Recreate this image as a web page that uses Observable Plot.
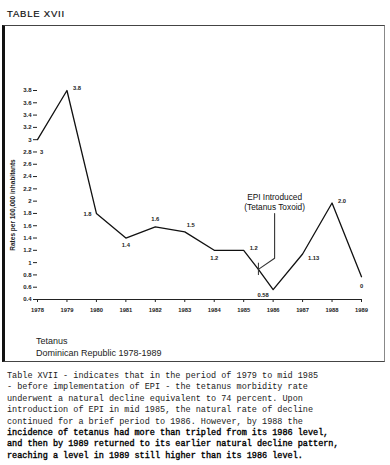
<!DOCTYPE html>
<html>
<head>
<meta charset="utf-8">
<script src="https://cdn.jsdelivr.net/npm/d3@7"></script>
<script src="https://cdn.jsdelivr.net/npm/@observablehq/plot@0.6"></script>
<style>
  html, body { margin: 0; padding: 0; background: #fff; }
  #page { position: relative; width: 390px; height: 465px; overflow: hidden; background: #fff; }
  #title { position: absolute; left: 7px; top: 8px; font: 9.5px "Liberation Sans", Arial, sans-serif; letter-spacing: 0.8px; color: #111; -webkit-text-stroke: 0.2px #111; }
  #box { position: absolute; left: 2px; top: 25px; width: 383px; height: 337px; border: 1px solid #444; border-left: 3px solid #111; border-right: 1px solid #888; box-sizing: border-box; }
  #chart { position: absolute; left: 0; top: 0; }
  #cap { position: absolute; left: 36px; top: 336px; font: 9px/11.5px "Liberation Sans", Arial, sans-serif; color: #222; }
  #para { position: absolute; left: 7px; top: 371px; font: 8.5px/11.4px "Liberation Mono", "Courier New", monospace; color: #222; white-space: pre; }
  #para .b { color: #000; -webkit-text-stroke: 0.35px #000; }
</style>
</head>
<body>
<div id="page">
  <div id="title">TABLE XVII</div>
  <div id="box"></div>
  <div id="chart"></div>
  <div id="cap">Tetanus<br>Dominican Republic 1978-1989</div>
  <div id="para"></div>
</div>
<script>
// Data
const years = [1978, 1979, 1980, 1981, 1982, 1983, 1984, 1985, 1985.5, 1986, 1987, 1988, 1989];
const rates = [3, 3.8, 1.8, 1.4, 1.58, 1.5, 1.2, 1.2, 0.89, 0.56, 1.14, 1.97, 0.77];
const pointLabels = ["3", "3.8", "1.8", "1.4", "1.6", "1.5", "1.2", "1.2", "", "0.58", "1.13", "2.0", "0"];
const labelDx = [4, 10, -9, 0, 0, 6, 0, 10, 0, -10, 11, 10, 0];
const labelDy = [12, -2, 1, 7, -8, -7, 8, -2, 0, 5, 4, -2, 9];
const xTicks = [1978, 1979, 1980, 1981, 1982, 1983, 1984, 1985, 1986, 1987, 1988, 1989];
const yTicks = [0.4, 0.6, 0.8, 1, 1.2, 1.4, 1.6, 1.8, 2, 2.2, 2.4, 2.6, 2.8, 3, 3.2, 3.4, 3.6, 3.8];
const epiX = [1986.05, 1986.05, 1985.5];
const epiY = [1.8, 1.07, 0.89];
const epiText = ["EPI Introduced", "(Tetanus Toxoid)"];
const yTitle = "Rates per 100,000 inhabitants";
const paragraph = [
  "Table XVII - indicates that in the period of 1979 to mid 1985",
  "- before implementation of EPI - the tetanus morbidity rate",
  "underwent a natural decline equivalent to 74 percent. Upon",
  "introduction of EPI in mid 1985, the natural rate of decline",
  "continued for a brief period to 1986. However, by 1988 the",
  "incidence of tetanus had more than tripled from its 1986 level,",
  "and then by 1989 returned to its earlier natural decline pattern,",
  "reaching a level in 1989 still higher than its 1986 level."
];

const data = years.map((y, i) => ({year: y, rate: rates[i], label: pointLabels[i], dx: labelDx[i], dy: labelDy[i]}));
const epi = epiX.map((x, i) => ({x, y: epiY[i]}));

const chart = Plot.plot({
  width: 390,
  height: 330,
  marginLeft: 37,
  marginRight: 29,
  marginTop: 90,
  marginBottom: 31,
  style: {fontFamily: "'Liberation Sans', Arial, sans-serif", color: "#222", background: "transparent", overflow: "visible"},
  x: {domain: [1978, 1989]},
  y: {domain: [0.4, 3.8]},
  marks: [
    Plot.axisX({ticks: xTicks, tickFormat: d => String(d), tickSize: 3, tickPadding: 5, fontSize: 5.8, fontWeight: "bold", label: null}),
    Plot.axisY({ticks: yTicks, tickFormat: d => String(+d.toFixed(1)), tickSize: 4, tickPadding: 2, fontSize: 6, fontWeight: "bold", label: null}),
    Plot.text([yTitle], {frameAnchor: "left", text: d => d, rotate: -90, textAnchor: "middle", dx: -25, dy: 10, fontSize: 6.5, fontWeight: "bold", fill: "#222"}),
    Plot.ruleY([0.4], {stroke: "#222", strokeWidth: 1.2}),
    Plot.line(data, {x: "year", y: "rate", stroke: "#111", strokeWidth: 1.3}),
    Plot.line(epi, {x: "x", y: "y", stroke: "#333", strokeWidth: 1.1}),
    Plot.ruleX([epiX[2]], {y1: epiY[2] - 0.1, y2: epiY[2] + 0.1, stroke: "#333", strokeWidth: 1}),
    Plot.text([epiText[0]], {x: epiX[0], y: epiY[0], text: d => d, dy: -16, fontSize: 8.3, fill: "#111", textAnchor: "middle"}),
    Plot.text([epiText[1]], {x: epiX[0], y: epiY[0], text: d => d, dy: -6, fontSize: 8.3, fill: "#111", textAnchor: "middle"}),
    ...data.map(d => Plot.text([d], {x: "year", y: "rate", text: "label", dx: d.dx, dy: d.dy, fontSize: 5.8, fontWeight: "bold", fill: "#222"}))
  ]
});
document.getElementById("chart").appendChild(chart);

// Build paragraph
const para = document.getElementById("para");
paragraph.forEach((line, i) => {
  const s = document.createElement("div");
  if (i >= 5) s.className = "b";
  s.textContent = line;
  para.appendChild(s);
});
</script>
</body>
</html>
